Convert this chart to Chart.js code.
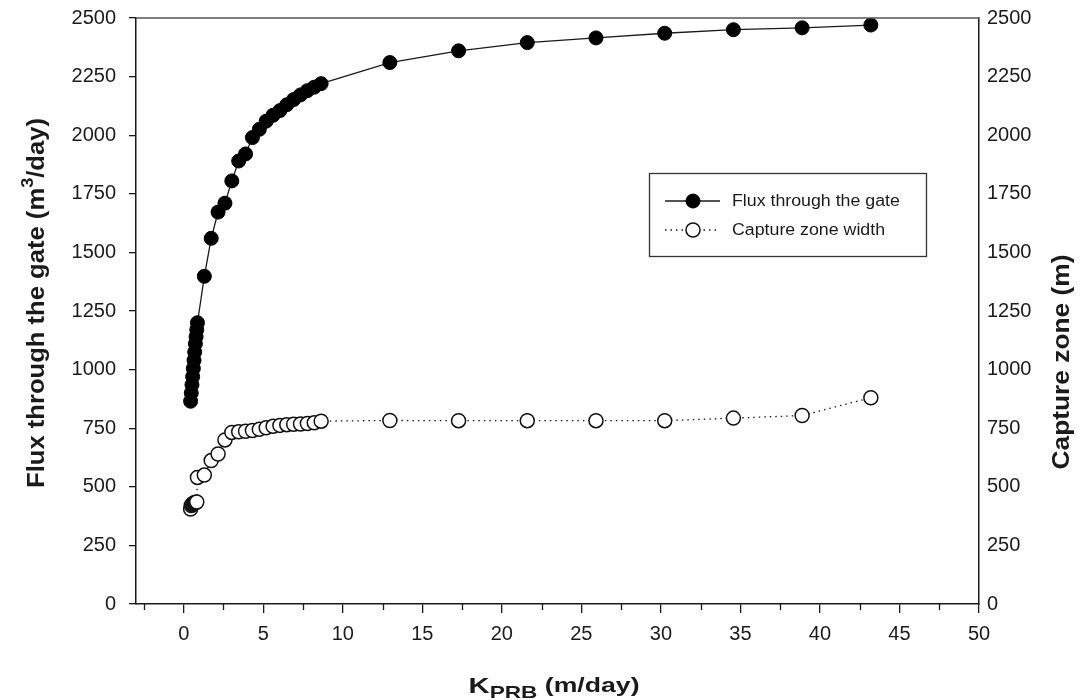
<!DOCTYPE html>
<html>
<head>
<meta charset="utf-8">
<script src="https://cdn.jsdelivr.net/npm/chart.js@4.4.1/dist/chart.umd.min.js"></script>
<style>
  body { margin: 0; background: #fff; }
  #wrap { width: 1082px; height: 700px; }
</style>
</head>
<body>
<div id="wrap"><canvas id="fluxChart" width="1082" height="700"></canvas></div>
<script>
// K_PRB values (m/day)
const kPrb = [0.432, 0.475, 0.518, 0.562, 0.605, 0.648, 0.691, 0.734, 0.778, 0.821, 0.864,
  1.296, 1.728, 2.16, 2.592, 3.024, 3.456, 3.888, 4.32, 4.752, 5.184, 5.616, 6.048, 6.48,
  6.912, 7.344, 7.776, 8.208, 8.64, 12.96, 17.28, 21.6, 25.92, 30.24, 34.56, 38.88, 43.2];

// flux through the gate (m3/day)
const flux = [865, 900, 935, 970, 1005, 1040, 1075, 1110, 1140, 1170, 1200,
  1398, 1560, 1672, 1710, 1805, 1890, 1920, 1990, 2025, 2060, 2085, 2105, 2130,
  2152, 2172, 2190, 2205, 2220, 2310, 2360, 2395, 2415, 2435, 2450, 2458, 2470];

// capture zone width (m)
const capture = [405, 420, 424, 427, 429, 431, 432, 433, 434, 435, 540,
  550, 612, 640, 700, 732, 735, 737, 740, 745, 752, 758, 762, 765,
  767, 768, 770, 773, 780, 783, 782, 782, 782, 782, 793, 804, 880];

const xMajor = [0, 5, 10, 15, 20, 25, 30, 35, 40, 45, 50];
const xMinor = [-2.5, 2.5, 7.5, 12.5, 17.5, 22.5, 27.5, 32.5, 37.5, 42.5, 47.5];
const legendLabels = ['Flux through the gate', 'Capture zone width'];

const FONT = "'Liberation Sans', Arial, sans-serif";
const INK = '#1a1a1a';

function pts(ys) {
    return kPrb.map((k, i) => ({ x: k, y: ys[i] }));
}

// draws runs of text [font, string, dy] stretched to a target length, centred at 0
function drawRuns(ctx, runs, target) {
    let total = 0;
    runs.forEach(r => { ctx.font = r[0]; r.w = ctx.measureText(r[1]).width; total += r.w; });
    const k = target / total;
    ctx.scale(k, 1);
    let x = -total / 2;
    runs.forEach(r => {
        ctx.font = r[0];
        ctx.fillText(r[1], x, r[2]);
        x += r.w;
    });
}

// keep the plot frame where the original has it
function fixY(width) {
    return s => { s.width = width; s.paddingTop = 0; s.paddingBottom = 0; };
}

const extras = {
    id: 'extras',
    afterDraw(chart) {
        const ctx = chart.ctx;
        const area = chart.chartArea;
        const xs = chart.scales.x;
        ctx.save();

        // top frame line
        ctx.strokeStyle = '#555';
        ctx.lineWidth = 1.5;
        ctx.beginPath();
        ctx.moveTo(area.left, area.top);
        ctx.lineTo(area.right, area.top);
        ctx.stroke();

        // minor x ticks
        ctx.strokeStyle = INK;
        ctx.lineWidth = 1.3;
        xMinor.forEach(v => {
            const px = Math.round(xs.getPixelForValue(v)) + 0.5;
            ctx.beginPath();
            ctx.moveTo(px, area.bottom);
            ctx.lineTo(px, area.bottom + 6);
            ctx.stroke();
        });

        ctx.fillStyle = INK;
        ctx.textBaseline = 'alphabetic';
        const big = 'bold 24px ' + FONT;

        // left title with superscript
        ctx.save();
        ctx.translate(44, 303);
        ctx.rotate(-Math.PI / 2);
        drawRuns(ctx, [
            [big, 'Flux through the gate (m', 0],
            ['bold 17px ' + FONT, '3', -11],
            [big, '/day)', 0]
        ], 370);
        ctx.restore();

        // right title
        ctx.save();
        ctx.translate(1069, 362);
        ctx.rotate(-Math.PI / 2);
        drawRuns(ctx, [[big, 'Capture zone (m)', 0]], 215);
        ctx.restore();

        // bottom title with subscript
        ctx.save();
        ctx.translate(554, 693);
        drawRuns(ctx, [
            ['bold 22px ' + FONT, 'K', 0],
            ['bold 17px ' + FONT, 'PRB', 5],
            ['bold 20px ' + FONT, ' (m/day)', -1]
        ], 171);
        ctx.restore();

        // legend box
        const lx = 649.5, ly = 173.5, lw = 277, lh = 83;
        ctx.strokeStyle = '#333';
        ctx.lineWidth = 1.3;
        ctx.strokeRect(lx, ly, lw, lh);
        const rows = [201, 230];
        chart.data.datasets.forEach((ds, i) => {
            const y = rows[i];
            ctx.strokeStyle = INK;
            ctx.lineWidth = ds.borderWidth;
            ctx.setLineDash(ds.borderDash || []);
            ctx.beginPath();
            ctx.moveTo(665, y);
            ctx.lineTo(720, y);
            ctx.stroke();
            ctx.setLineDash([]);
            ctx.beginPath();
            ctx.arc(693, y, 7, 0, Math.PI * 2);
            ctx.fillStyle = ds.pointBackgroundColor;
            ctx.fill();
            ctx.lineWidth = ds.pointBorderWidth;
            ctx.strokeStyle = ds.pointBorderColor;
            ctx.stroke();
            ctx.fillStyle = INK;
            ctx.font = '16px ' + FONT;
            ctx.textBaseline = 'middle';
            ctx.save();
            ctx.translate(732, y + 1);
            ctx.scale(1.11, 1);
            ctx.fillText(legendLabels[i], 0, 0);
            ctx.restore();
            ctx.textBaseline = 'alphabetic';
        });

        ctx.restore();
    }
};

const tickFont = { family: FONT, size: 20 };
const plain = v => String(v);

new Chart(document.getElementById('fluxChart'), {
    type: 'scatter',
    data: {
        datasets: [{
            label: legendLabels[0],
            data: pts(flux),
            showLine: true,
            borderColor: INK,
            borderWidth: 1.3,
            pointRadius: 7,
            pointBackgroundColor: '#000',
            pointBorderColor: '#000',
            pointBorderWidth: 1,
            yAxisID: 'y'
        }, {
            label: legendLabels[1],
            data: pts(capture),
            showLine: true,
            borderColor: INK,
            borderWidth: 1.3,
            borderDash: [1.5, 4],
            pointRadius: 7,
            pointBackgroundColor: '#fff',
            pointBorderColor: '#111',
            pointBorderWidth: 1.5,
            yAxisID: 'y2'
        }]
    },
    options: {
        responsive: false,
        animation: false,
        layout: { padding: { top: 18, left: 0, right: 0, bottom: 0 } },
        plugins: {
            legend: { display: false },
            tooltip: { enabled: false }
        },
        scales: {
            x: {
                type: 'linear',
                position: 'bottom',
                min: -3,
                max: 50,
                afterBuildTicks: s => { s.ticks = xMajor.map(v => ({ value: v })); },
                afterFit: s => { s.height = 96; s.paddingLeft = 0; s.paddingRight = 0; },
                grid: { drawOnChartArea: false, drawTicks: true, tickLength: 9, color: INK, lineWidth: 1.3 },
                border: { display: true, color: INK, width: 1.5 },
                ticks: { font: tickFont, color: INK, padding: 9, maxRotation: 0, callback: plain }
            },
            y: {
                position: 'left',
                min: 0,
                max: 2500,
                ticks: { stepSize: 250, font: tickFont, color: INK, padding: 13, callback: plain },
                afterFit: fixY(136),
                grid: { drawOnChartArea: false, drawTicks: true, tickLength: 7, color: INK, lineWidth: 1.3 },
                border: { display: true, color: INK, width: 1.5 }
            },
            y2: {
                position: 'right',
                min: 0,
                max: 2500,
                ticks: { stepSize: 250, font: tickFont, color: INK, padding: 8, callback: plain },
                afterFit: fixY(103),
                grid: { drawOnChartArea: false, drawTicks: false },
                border: { display: true, color: INK, width: 1.5 }
            }
        }
    },
    plugins: [extras]
});
</script>
</body>
</html>
